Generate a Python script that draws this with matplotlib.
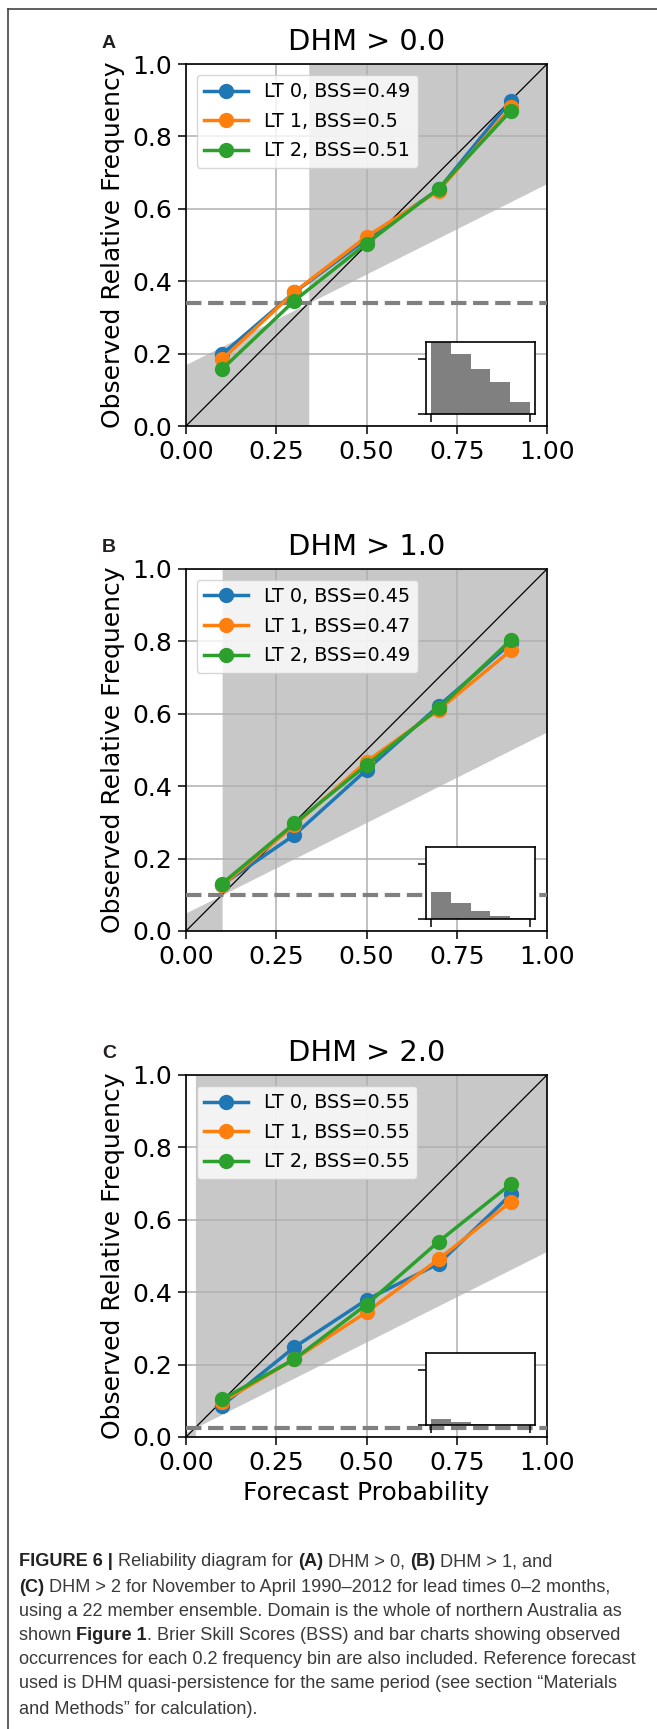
import numpy as np
import matplotlib
matplotlib.use('Agg')
from matplotlib import pyplot as plt

# Forecast probability bins (centres)
prob_bins = [0.1, 0.3, 0.5, 0.7, 0.9]

# Panel titles / labels
titles = ['DHM > 0.0', 'DHM > 1.0', 'DHM > 2.0']
panel_letters = ['A', 'B', 'C']

# Climatological frequency (reference) per panel
clim = [0.34, 0.10, 0.026]

# Observed relative frequency, per panel, per lead time
obs_A = [[0.198, 0.369, 0.516, 0.654, 0.899],
         [0.184, 0.370, 0.523, 0.650, 0.880],
         [0.157, 0.346, 0.504, 0.656, 0.871]]
obs_B = [[0.128, 0.265, 0.445, 0.622, 0.795],
         [0.126, 0.292, 0.468, 0.611, 0.775],
         [0.131, 0.297, 0.458, 0.615, 0.804]]
obs_C = [[0.087, 0.248, 0.379, 0.479, 0.670],
         [0.097, 0.215, 0.345, 0.491, 0.650],
         [0.104, 0.215, 0.366, 0.540, 0.699]]
observed = [obs_A, obs_B, obs_C]

# Brier skill scores per panel, per lead time
bss = [['0.49', '0.5', '0.51'],
       ['0.45', '0.47', '0.49'],
       ['0.55', '0.55', '0.55']]
lead_times = [0, 1, 2]

# Inset bar charts: relative occurrence per 0.2 bin
hist_A = [1.0, 0.83, 0.62, 0.44, 0.16]
hist_B = [0.38, 0.22, 0.106, 0.046, 0.01]
hist_C = [0.09, 0.04, 0.015, 0.005, 0.002]
hists = [hist_A, hist_B, hist_C]

caption = [
    [('FIGURE 6 |', True), (' Reliability diagram for ', False), ('(A)', True),
     (' DHM > 0, ', False), ('(B)', True), (' DHM > 1, and', False)],
    [('(C)', True), (' DHM > 2 for November to April 1990\u20132012 for lead times 0\u20132 months,', False)],
    [('using a 22 member ensemble. Domain is the whole of northern Australia as', False)],
    [('shown ', False), ('Figure 1', True), ('. Brier Skill Scores (BSS) and bar charts showing observed', False)],
    [('occurrences for each 0.2 frequency bin are also included. Reference forecast', False)],
    [('used is DHM quasi-persistence for the same period (see section \u201cMaterials', False)],
    [('and Methods\u201d for calculation).', False)],
]

colors = ['#1f77b4', '#ff7f0e', '#2ca02c']

W, H = 657, 1729
fig = plt.figure(figsize=(W / 100, H / 100), dpi=100)

# thin frame round the figure (top and left edges)
fig.add_artist(plt.Line2D([8 / W, 8 / W], [0, 1 - 9 / H], color='#444444', lw=1.2))
fig.add_artist(plt.Line2D([8 / W, 1], [1 - 9 / H, 1 - 9 / H], color='#444444', lw=1.2))

ax_tops = [64, 569, 1075]
ax_left, ax_w, ax_h = 186, 361, 362

for k in range(3):
    top = ax_tops[k]
    ax = fig.add_axes([ax_left / W, 1 - (top + ax_h) / H, ax_w / W, ax_h / H])
    c = clim[k]
    xs = np.array([0.0, 1.0])

    # skill region shading
    ax.fill_between([c, 1], [(c + c) / 2, (1 + c) / 2], 1, color='#c8c8c8', lw=0, zorder=1)
    ax.fill_between([0, c], 0, [c / 2, c], color='#c8c8c8', lw=0, zorder=1)

    ax.plot(xs, xs, color='black', lw=0.9, zorder=3)
    ax.axhline(c, color='#808080', lw=3, ls='--', zorder=3)

    for i, lt in enumerate(lead_times):
        ax.plot(prob_bins, observed[k][i], color=colors[i], lw=2.5, marker='o',
                markersize=10, label=f'LT {lt}, BSS={bss[k][i]}', zorder=4)

    ax.set_xlim(0, 1)
    ax.set_ylim(0, 1)
    ax.set_xticks([0, 0.25, 0.5, 0.75, 1.0])
    ax.set_yticks([0, 0.2, 0.4, 0.6, 0.8, 1.0])
    ax.grid(True, color='#b0b0b0', lw=1.1)
    ax.tick_params(labelsize=18, length=6, width=1.1, pad=4)
    for s in ax.spines.values():
        s.set_linewidth(1.2)
    ax.set_title(titles[k], fontsize=20.8, pad=10)
    ax.set_ylabel('Observed Relative Frequency', fontsize=18, labelpad=5)
    if k == 2:
        ax.set_xlabel('Forecast Probability', fontsize=18, labelpad=4.5)
    ax.legend(loc='upper left', fontsize=13.8, handlelength=2.3, labelspacing=0.55,
              borderaxespad=0.55)

    fig.text(102 / W, 1 - (top - 21) / H, panel_letters[k], fontsize=14, fontweight='bold',
             family='Liberation Sans', color='#231f20', va='center', ha='left')

    # inset bar chart of occurrences
    ins = ax.inset_axes([0.665, 0.033, 0.302, 0.2])
    ins.bar(prob_bins, hists[k], width=0.2, color='#808080', lw=0)
    ins.set_xlim(-0.05, 1.05)
    ins.set_ylim(0, 1)
    ins.set_xticks([0, 1])
    ins.set_yticks([0, 0.76])
    ins.set_xticklabels([])
    ins.set_yticklabels([])
    ins.tick_params(length=6, width=1.1)
    for s in ins.spines.values():
        s.set_linewidth(1.2)

# caption, drawn segment by segment so bold parts sit inline
fig.canvas.draw()
renderer = fig.canvas.get_renderer()
line_y = [1562, 1587, 1612, 1636, 1660, 1684, 1709]
for ly, segs in zip(line_y, caption):
    x = 19
    for txt, bold in segs:
        t = fig.text(x / W, 1 - ly / H, txt, fontsize=13.1, family='Liberation Sans',
                     fontweight='bold' if bold else 'normal',
                     color='#222222' if bold else '#3a3a3a', va='center', ha='left')
        bb = t.get_window_extent(renderer)
        x += bb.width

fig.savefig('out.png', dpi=100)
